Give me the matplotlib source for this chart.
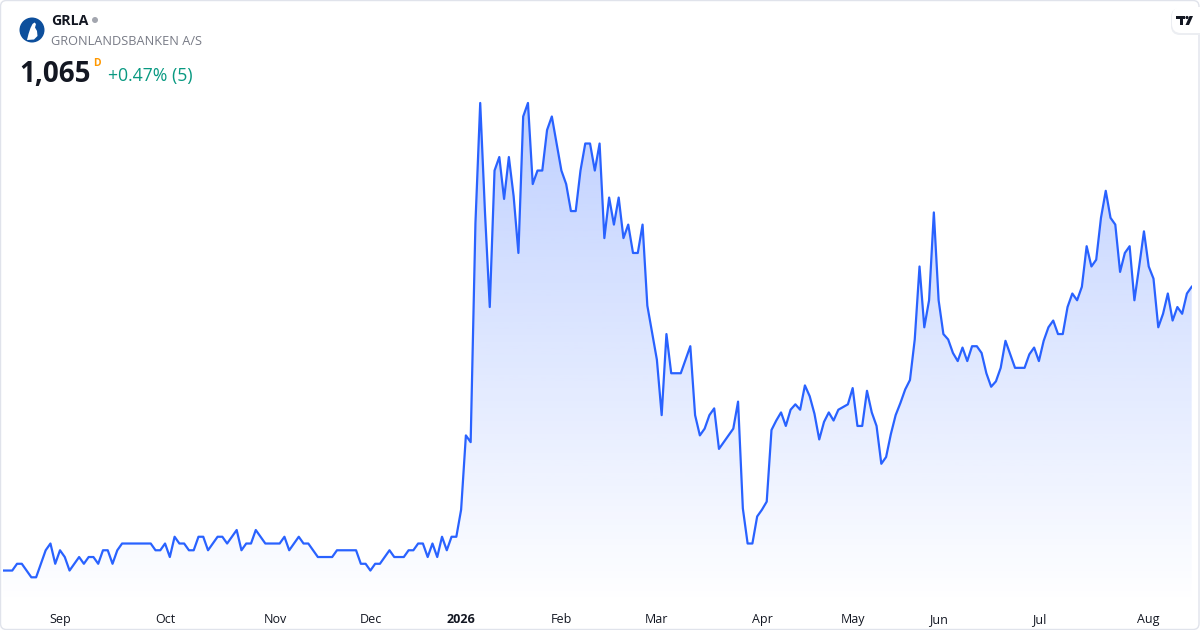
import numpy as np
import pandas as pd
import matplotlib
matplotlib.use("Agg")
import matplotlib.pyplot as plt
from matplotlib.patches import FancyBboxPatch, Polygon, Circle
from matplotlib.transforms import IdentityTransform

plt.rcParams['font.family'] = ['Open Sans', 'DejaVu Sans']

# --- data -------------------------------------------------------------
symbol = "GRLA"
company = "GRONLANDSBANKEN A/S"
last_price = "1,065"
change_text = "+0.47% (5)"

# Copenhagen exchange closing days in the period
holidays = ["2025-12-24", "2025-12-25", "2025-12-26", "2025-12-31",
            "2026-01-01", "2026-04-02", "2026-04-03", "2026-04-06",
            "2026-05-14", "2026-05-15", "2026-05-25", "2026-06-05"]
dates = pd.bdate_range("2025-08-14", "2026-08-14", freq="C", holidays=holidays)

prices = [
    855, 855, 855, 860, 860, 855, 850, 850, 860, 870,
    875, 860, 870, 865, 855, 860, 865, 860, 865, 865,
    860, 870, 870, 860, 870, 875, 875, 875, 875, 875,
    875, 875, 870, 870, 875, 865, 880, 875, 875, 870,
    870, 880, 880, 870, 875, 880, 880, 875, 880, 885,
    870, 875, 875, 885, 880, 875, 875, 875, 875, 880,
    870, 875, 880, 875, 875, 870, 865, 865, 865, 865,
    870, 870, 870, 870, 870, 860, 860, 855, 860, 860,
    865, 870, 865, 865, 865, 870, 870, 875, 875, 865,
    875, 865, 880, 870, 880, 880, 900, 955, 950, 1112,
    1201, 1120, 1050, 1151, 1161, 1130, 1161, 1132, 1090, 1191,
    1201, 1141, 1151, 1151, 1181, 1191, 1171, 1151, 1141, 1121,
    1121, 1151, 1171, 1171, 1151, 1171, 1101, 1131, 1111, 1131,
    1101, 1111, 1090, 1090, 1111, 1051, 1031, 1011, 970, 1030,
    1001, 1001, 1001, 1011, 1021, 970, 955, 960, 970, 975,
    945, 950, 955, 960, 980, 901, 875, 875, 895, 900,
    906, 959, 966, 972, 962, 974, 978, 974, 992, 984,
    971, 952, 965, 972, 966, 974, 976, 978, 990, 962,
    962, 988, 972, 962, 934, 939, 956, 970, 979, 989,
    996, 1026, 1080, 1035, 1055, 1120, 1055, 1030, 1026, 1016,
    1010, 1020, 1010, 1021, 1021, 1016, 1001, 991, 995, 1005,
    1025, 1015, 1005, 1005, 1005, 1015, 1020, 1010, 1025, 1035,
    1040, 1030, 1030, 1050, 1060, 1055, 1065, 1095, 1080, 1085,
    1116, 1136, 1116, 1111, 1076, 1090, 1095, 1055, 1080, 1106,
    1080, 1071, 1035, 1045, 1060, 1040, 1050, 1045, 1060, 1065,
]

# --- figure -----------------------------------------------------------
W, H = 1200, 630
fig = plt.figure(figsize=(W / 100, H / 100), dpi=100)
fig.patch.set_facecolor("white")
PX = IdentityTransform()  # output pixels, origin bottom-left


def fx(px):
    return px / W


def fy(py):
    return 1 - py / H


def pt(a, b):
    # screen coords (top-left origin) -> display pixels
    return (a, H - b)


# card border
fig.patches.append(FancyBboxPatch(pt(0.5, 629.5), 1198.5, 629, transform=PX,
                                  boxstyle="round,pad=0,rounding_size=6",
                                  facecolor="none", edgecolor="#e0e3eb",
                                  linewidth=1.0))

ax = fig.add_axes([fx(2.7), fy(605), fx(1189), 605 / H])
ax.patch.set_alpha(0)
x = np.arange(len(prices))
y = np.array(prices, dtype=float)
ymin, ymax = 829.5, 1277.2

# gradient area under the line
poly = Polygon(np.column_stack([np.r_[x[0], x, x[-1]], np.r_[ymin, y, ymin]]),
               closed=True, facecolor="none", edgecolor="none")
ax.add_patch(poly)
n = 256
grad = np.zeros((n, 1, 4))
grad[:, 0, 0] = 41 / 255
grad[:, 0, 1] = 98 / 255
grad[:, 0, 2] = 1.0
grad[:, 0, 3] = np.linspace(0.30, 0.0, n)
im = ax.imshow(grad, extent=[x[0], x[-1], ymin, y.max()], aspect="auto",
               origin="upper", interpolation="bilinear", zorder=1)
im.set_clip_path(poly)

ax.plot(x, y, color="#2962ff", linewidth=1.6, zorder=2, solid_joinstyle="round")
ax.set_xlim(0, len(prices) - 1)
ax.set_ylim(ymin, ymax)

# month ticks at first trading day of each month
months = pd.Series(dates.to_period("M"))
first_idx = months.drop_duplicates().index[1:]
labels = []
for i in first_idx:
    d = dates[i]
    labels.append(str(d.year) if d.month == 1 else d.strftime("%b"))
ax.set_xticks(first_idx)
ax.set_xticklabels(labels)
ax.tick_params(axis="x", length=0, pad=6, labelsize=9, labelcolor="#131722")
for lab in ax.get_xticklabels():
    if lab.get_text().isdigit():
        lab.set_fontweight("bold")
ax.set_yticks([])
for s in ax.spines.values():
    s.set_visible(False)

# --- header -----------------------------------------------------------
fig.patches.append(Circle(pt(32, 30), 12.5, transform=PX,
                          facecolor="#0d4f9c", edgecolor="none"))
# small white bird mark in the logo
bird = [(27, 40), (28.5, 34), (30.5, 28), (32.5, 24), (34.5, 22.5), (36, 24),
        (35, 27.5), (37, 31), (37.5, 36), (34, 39.5)]
fig.patches.append(Polygon([pt(a, b) for a, b in bird], closed=True,
                           transform=PX, facecolor="white", edgecolor="none"))

fig.text(fx(51), fy(25), symbol, fontsize=10.2, fontweight="bold",
         color="#131722", va="baseline")
fig.patches.append(Circle(pt(95, 20), 3, transform=PX,
                          facecolor="#a3a6af", edgecolor="none"))
fig.text(fx(51), fy(45), company, fontsize=9.2, color="#787b86", va="baseline")
fig.text(fx(19), fy(82), last_price, fontsize=20, fontweight="bold",
         color="#131722", va="baseline")
fig.text(fx(93), fy(66), "D", fontsize=7.5, fontweight="bold",
         color="#ff9800", va="baseline")
fig.text(fx(108), fy(81), change_text, fontsize=12.7, color="#089981",
         va="baseline")

# TradingView badge top right
fig.patches.append(FancyBboxPatch(pt(1171, 35), 40, 27, transform=PX,
                                  boxstyle="round,pad=0,rounding_size=9",
                                  facecolor="#eceef2", edgecolor="none"))
fig.patches.append(FancyBboxPatch(pt(1172, 33), 40, 26, transform=PX,
                                  boxstyle="round,pad=0,rounding_size=9",
                                  facecolor="white", edgecolor="none"))
t_mark = [(1176, 16), (1185, 16), (1185, 19), (1183, 19), (1183, 25),
          (1180, 25), (1180, 19), (1176, 19)]
slash = [(1189.5, 16), (1193, 16), (1189, 25), (1185.5, 25)]
for shape in (t_mark, slash):
    fig.patches.append(Polygon([pt(a, b) for a, b in shape], closed=True,
                               transform=PX, facecolor="#131722",
                               edgecolor="none"))
fig.patches.append(Circle(pt(1187, 17.5), 1.6, transform=PX,
                          facecolor="#131722", edgecolor="none"))

fig.savefig("out.png", dpi=100)
